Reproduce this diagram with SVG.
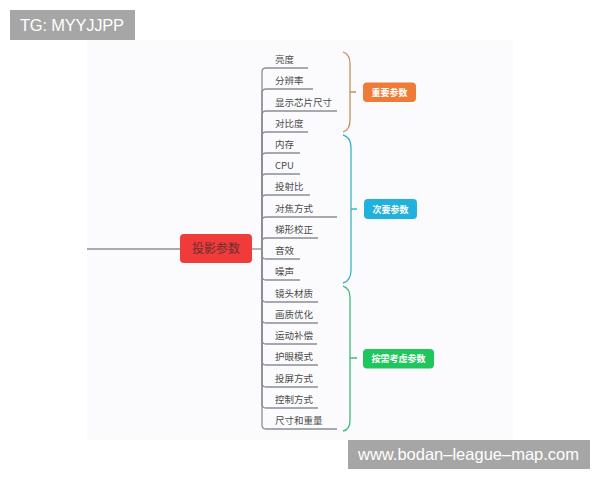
<svg xmlns="http://www.w3.org/2000/svg" width="600" height="480" viewBox="0 0 600 480">
<defs>
<style>
.item{font-family:"Noto Sans CJK SC","Noto Sans",sans-serif;font-size:9.5px;fill:#4a4a4a}
.lbl{font-family:"Noto Sans CJK SC","Noto Sans",sans-serif;font-size:9px;fill:#ffffff;text-anchor:middle;font-weight:bold}
.conn{fill:none;stroke:#8b8f97;stroke-width:1.3}
.wm{font-family:"Liberation Sans",Arial,sans-serif;fill:#ffffff}
</style>
</defs>
<rect x="0" y="0" width="600" height="480" fill="#ffffff"/>
<rect x="87" y="40" width="426" height="400" fill="#fbfbfd"/>
<g id="connectors">
<path class="conn" d="M87,249 H180"/>
<path class="conn" d="M252,249 H262"/>
<path class="conn" d="M262,249 V72 Q262,68 266,68 H308"/>
<path class="conn" d="M262,249 V93 Q262,89 266,89 H313"/>
<path class="conn" d="M262,249 V115 Q262,111 266,111 H337"/>
<path class="conn" d="M262,249 V136 Q262,132 266,132 H308"/>
<path class="conn" d="M262,249 V157 Q262,153 266,153 H300"/>
<path class="conn" d="M262,249 V178 Q262,174 266,174 H300"/>
<path class="conn" d="M262,249 V199 Q262,195 266,195 H310"/>
<path class="conn" d="M262,249 V221 Q262,217 266,217 H337"/>
<path class="conn" d="M262,249 V242 Q262,238 266,238 H318"/>
<path class="conn" d="M262,249 V255 Q262,259 266,259 H300"/>
<path class="conn" d="M262,249 V276 Q262,280 266,280 H300"/>
<path class="conn" d="M262,249 V298 Q262,302 266,302 H318"/>
<path class="conn" d="M262,249 V319 Q262,323 266,323 H318"/>
<path class="conn" d="M262,249 V340 Q262,344 266,344 H317"/>
<path class="conn" d="M262,249 V361 Q262,365 266,365 H318"/>
<path class="conn" d="M262,249 V383 Q262,387 266,387 H318"/>
<path class="conn" d="M262,249 V404 Q262,408 266,408 H318"/>
<path class="conn" d="M262,249 V425 Q262,429 266,429 H337"/>
<path d="M343,52 Q350,54 350,64 V120 Q350,130 343,132 M350,92 H356" fill="none" stroke="#c0925f" stroke-width="1.3"/>
<path d="M343,135 Q351,137 351,148 V270 Q351,281 343,283 M351,209 H357" fill="none" stroke="#39b4c4" stroke-width="1.3"/>
<path d="M343,286 Q350,288 350,298 V420 Q350,430 343,431 M350,358 H357" fill="none" stroke="#3cbf7a" stroke-width="1.3"/>
</g>
<g id="root">
<rect x="180" y="234" width="72" height="29" rx="4" fill="#f03b3b"/>
<text x="216" y="253" font-family="Noto Sans CJK SC, Noto Sans, sans-serif" font-size="12" fill="#6a2e2e" text-anchor="middle">投影参数</text>
</g>
<g id="n1"><text class="item" x="275" y="63">亮度</text></g>
<g id="n2"><text class="item" x="275" y="84">分辨率</text></g>
<g id="n3"><text class="item" x="275" y="106">显示芯片尺寸</text></g>
<g id="n4"><text class="item" x="275" y="127">对比度</text></g>
<g id="n5"><text class="item" x="275" y="148">内存</text></g>
<g id="n6"><text class="item" x="275" y="169">CPU</text></g>
<g id="n7"><text class="item" x="275" y="190">投射比</text></g>
<g id="n8"><text class="item" x="275" y="212">对焦方式</text></g>
<g id="n9"><text class="item" x="275" y="233">梯形校正</text></g>
<g id="n10"><text class="item" x="275" y="254">音效</text></g>
<g id="n11"><text class="item" x="275" y="275">噪声</text></g>
<g id="n12"><text class="item" x="275" y="297">镜头材质</text></g>
<g id="n13"><text class="item" x="275" y="318">画质优化</text></g>
<g id="n14"><text class="item" x="275" y="339">运动补偿</text></g>
<g id="n15"><text class="item" x="275" y="360">护眼模式</text></g>
<g id="n16"><text class="item" x="275" y="382">投屏方式</text></g>
<g id="n17"><text class="item" x="275" y="403">控制方式</text></g>
<g id="n18"><text class="item" x="275" y="424">尺寸和重量</text></g>
<g id="important">
<rect x="363" y="82.5" width="53" height="19.5" rx="4" fill="#ee7b37"/>
<text class="lbl" x="389.5" y="95.5">重要参数</text>
</g>
<g id="secondary">
<rect x="364" y="199" width="53" height="20" rx="4" fill="#20b2dc"/>
<text class="lbl" x="390.5" y="212.5">次要参数</text>
</g>
<g id="optional">
<rect x="363" y="349" width="71" height="19.5" rx="4" fill="#20c65c"/>
<text class="lbl" x="398.5" y="362">按需考虑参数</text>
</g>
<g id="wm-top">
<rect x="10" y="10" width="125" height="30" fill="#a6a6a6"/>
<text class="wm" x="20" y="31" font-size="16.5" textLength="104">TG: MYYJJPP</text>
</g>
<g id="wm-bottom">
<rect x="348" y="440" width="242" height="29" fill="#a6a6a6"/>
<text class="wm" x="358" y="460" font-size="16.5" textLength="221">www.bodan–league–map.com</text>
</g>
</svg>
